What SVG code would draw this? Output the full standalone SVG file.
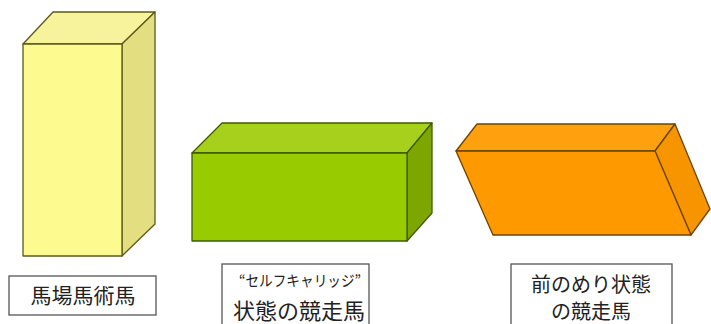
<svg xmlns="http://www.w3.org/2000/svg" width="711" height="324" viewBox="0 0 711 324">
<style>
.edge{stroke-width:1.3;stroke-linejoin:round}
.y{stroke:#5c5a1c}
.g{stroke:#3d5a00}
.o{stroke:#6b4300}
.lbl{fill:#ffffff;stroke:#555555;stroke-width:1.3}
.t{font-family:"Noto Sans CJK JP","Noto Sans CJK SC",sans-serif;fill:#222222;text-anchor:middle}
</style>
<rect width="711" height="324" fill="#ffffff"/>
<g id="box-dressage">
<polygon class="edge y" points="23,44 53,12 155,12 122,44" fill="#f7f29c"/>
<polygon class="edge y" points="122,44 155,12 155,224 122,256" fill="#e3de80"/>
<rect class="edge y" x="23" y="44" width="99" height="212" fill="#fdfa90"/>
</g>
<g id="box-selfcarriage">
<polygon class="edge g" points="192,153 222,123 432,123 407,153" fill="#a6d01c"/>
<polygon class="edge g" points="407,153 432,123 432,213 407,241" fill="#7ea600"/>
<rect class="edge g" x="192" y="153" width="215" height="88" fill="#99cc00"/>
</g>
<g id="box-forward">
<polygon class="edge o" points="456,151 477,124 675,124 655,151" fill="#ffa00f"/>
<polygon class="edge o" points="655,151 675,124 710,209 691,235" fill="#f79500"/>
<polygon class="edge o" points="456,151 655,151 691,235 493,235" fill="#ff9900"/>
</g>
<g id="label-dressage">
<rect class="lbl" x="9" y="276" width="147" height="39"/>
<text class="t" x="83" y="303" font-size="21">馬場馬術馬</text>
</g>
<g id="label-selfcarriage">
<rect class="lbl" x="222" y="264" width="147" height="64"/>
<text class="t" x="300" y="286" font-size="15" textLength="122" lengthAdjust="spacingAndGlyphs">“セルフキャリッジ”</text>
<text class="t" x="299" y="319" font-size="22">状態の競走馬</text>
</g>
<g id="label-forward">
<rect class="lbl" x="511" y="264" width="161" height="64"/>
<text class="t" x="591" y="292" font-size="20">前のめり状態</text>
<text class="t" x="591" y="319" font-size="20">の競走馬</text>
</g>
</svg>
